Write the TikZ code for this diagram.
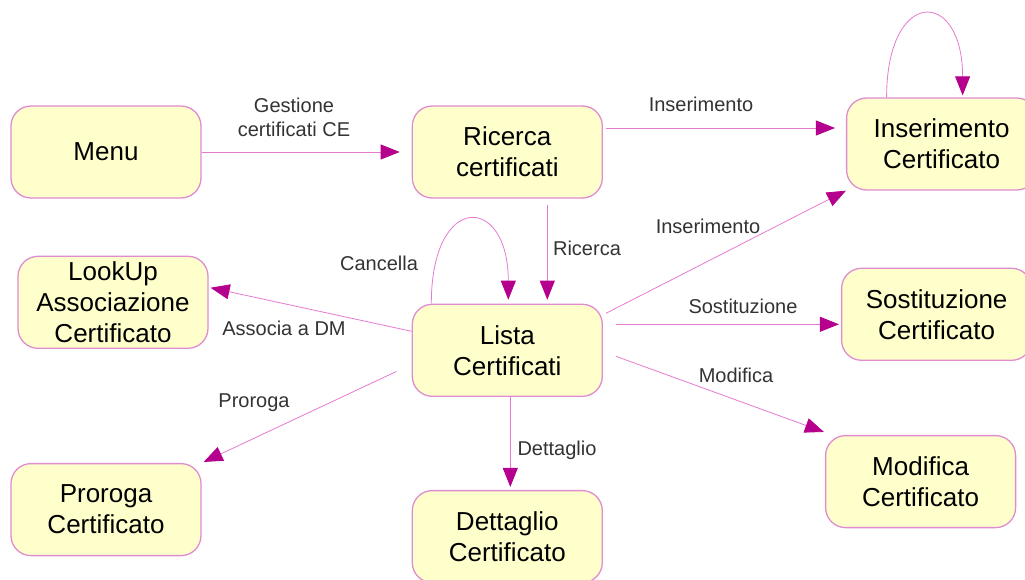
\documentclass[tikz,border=0pt]{standalone}
\usepackage{fontspec}
\setmainfont{Liberation Sans}
\usetikzlibrary{positioning,arrows.meta}

\definecolor{boxfill}{HTML}{FFFFCC}
\definecolor{boxline}{HTML}{E08CD0}
\definecolor{edgeline}{HTML}{E67AD0}
\definecolor{tipfill}{HTML}{B4008C}
\definecolor{lbltext}{HTML}{333333}

\tikzset{
  state/.style={draw=boxline, line width=1.3pt, fill=boxfill, rounded corners=20pt,
    minimum width=190pt, minimum height=92pt, align=center, inner sep=0pt,
    font=\fontsize{26}{31}\selectfont},
  trans/.style={draw=edgeline, line width=0.8pt,
    -{Triangle[length=19pt,width=15pt,color=tipfill]}},
  lbl/.style={text=lbltext, font=\fontsize{20}{24}\selectfont, inner sep=0pt, align=center},
}

\begin{document}
\begin{tikzpicture}[x=1pt, y=-1pt]
    \useasboundingbox (0,0) rectangle (1025,579);

    \node[state] (menu) at (106,152) {Menu};
    \node[state, right=210pt of menu] (ricerca) {Ricerca\\certificati};
    \node[state, right=243pt of ricerca, yshift=8pt] (ins) {Inserimento\\Certificato};
    \node[state, below=105pt of ricerca] (lista) {Lista\\Certificati};
    \node[state, below=93pt of lista] (dettaglio) {Dettaglio\\Certificato};
    \node[state, left=203pt of lista, yshift=48pt] (lookup) {LookUp\\Associazione\\Certificato};
    \node[state, below=114pt of lookup, xshift=-7pt] (proroga) {Proroga\\Certificato};
    \node[state, right=238pt of lista, yshift=36pt] (sost) {Sostituzione\\Certificato};
    \node[state, below=74pt of sost, xshift=-16pt] (modifica) {Modifica\\Certificato};

    % transitions
    \draw[trans, shorten >=12pt] (menu) -- (ricerca);
    \draw[trans, shorten <=3pt, shorten >=11pt] ([yshift=24pt]ricerca.east) -- ([yshift=16pt]ins.west);
    \draw[trans, shorten <=6pt, shorten >=4pt] ([xshift=40pt]ricerca.south) -- ([xshift=40pt]lista.north);
    \draw[trans, shorten >=4pt] ([xshift=-76pt]lista.north) .. controls +(0,-112) and +(0,-110) .. ([xshift=1pt]lista.north);
    \draw[trans, shorten >=2pt] ([xshift=-55pt]ins.north) .. controls +(0,-110) and +(0,-110) .. ([xshift=21pt]ins.north);
    \draw[trans] ([shift={(3pt,37pt)}]lista.east) -- (ins.south west);
    \draw[trans, shorten <=13pt, shorten >=2pt] ([yshift=26pt]lista.east) -- ([yshift=-10pt]sost.west);
    \draw[trans] ([shift={(13pt,-6pt)}]lista.east) -- ([shift={(-1pt,3pt)}]modifica.north west);
    \draw[trans, shorten >=3pt] ([xshift=3pt]lista.south) -- ([xshift=3pt]dettaglio.north);
    \draw[trans, shorten >=2pt] ([yshift=19pt]lista.west) -- ([yshift=15pt]lookup.east);
    \draw[trans, shorten <=17pt] ([yshift=-14pt]lista.west) -- ([shift={(2pt,1pt)}]proroga.north east);

    % labels
    \node[lbl] (l-gestione) at (294,117) {Gestione\\certificati CE};
    \node[lbl] (l-ins-top) at (701,104) {Inserimento};
    \node[lbl] (l-ricerca) at (587,248) {Ricerca};
    \node[lbl] (l-cancella) at (379,263) {Cancella};
    \node[lbl] (l-ins-low) at (708,226) {Inserimento};
    \node[lbl] (l-associa) at (284,328) {Associa a DM};
    \node[lbl] (l-sost) at (743,306) {Sostituzione};
    \node[lbl] (l-modifica) at (736,375) {Modifica};
    \node[lbl] (l-proroga) at (254,403) {Proroga};
    \node[lbl] (l-dettaglio) at (557,450) {Dettaglio};
\end{tikzpicture}
\end{document}
